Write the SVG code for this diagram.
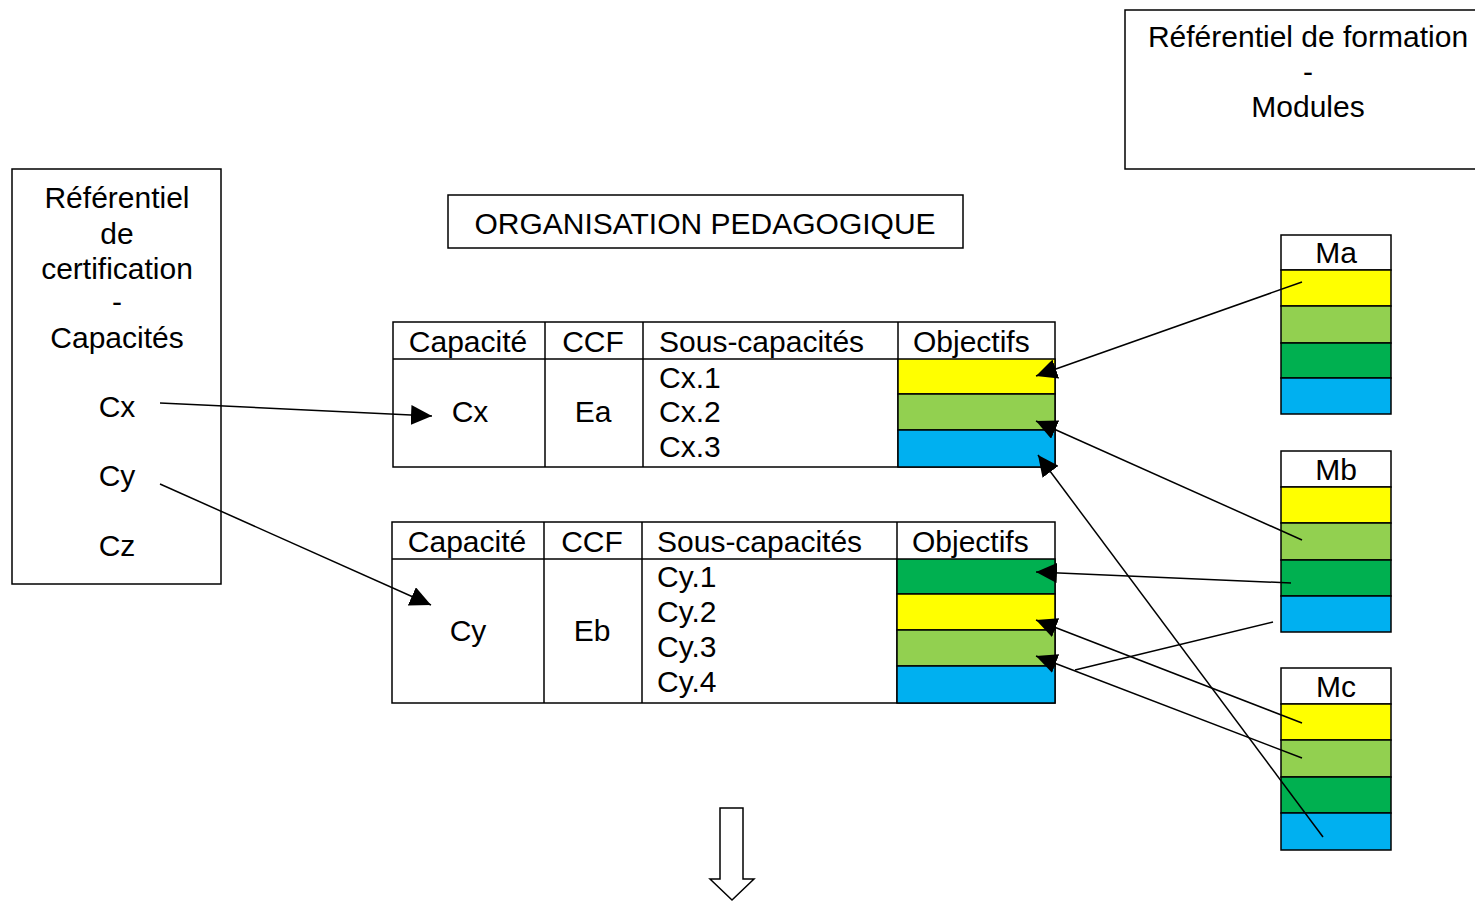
<svg xmlns="http://www.w3.org/2000/svg" width="1475" height="902" viewBox="0 0 1475 902">
<style>
text{font-family:"Liberation Sans",Arial,sans-serif;font-size:30px;fill:#000}
.c{text-anchor:middle}
.b{fill:#fff;stroke:#000;stroke-width:1.5}
.ln{stroke:#000;stroke-width:1.5;fill:none}
.y{fill:#FFFF00;stroke:#000;stroke-width:1.5}
.lg{fill:#92D050;stroke:#000;stroke-width:1.5}
.dg{fill:#00B050;stroke:#000;stroke-width:1.5}
.bl{fill:#00B0F0;stroke:#000;stroke-width:1.5}
.cn{stroke:#000;stroke-width:1.5;fill:none}
</style>
<defs>
<marker id="ah" markerUnits="userSpaceOnUse" markerWidth="22" markerHeight="20" refX="21" refY="10" orient="auto">
<path d="M0,0 L21,10 L0,20 Z" fill="#000"/>
</marker>
</defs>
<rect width="1475" height="902" fill="#fff"/>

<g id="ref-certification">
<rect class="b" x="12" y="169" width="209" height="415"/>
<text class="c" x="117" y="208">Référentiel</text>
<text class="c" x="117" y="244">de</text>
<text class="c" x="117" y="279">certification</text>
<text class="c" x="117" y="312">-</text>
<text class="c" x="117" y="348">Capacités</text>
<text class="c" x="117" y="417">Cx</text>
<text class="c" x="117" y="486">Cy</text>
<text class="c" x="117" y="556">Cz</text>
</g>

<g id="ref-formation">
<rect class="b" x="1125" y="10" width="370" height="159"/>
<text class="c" x="1308" y="47">Référentiel de formation</text>
<text class="c" x="1308" y="82">-</text>
<text class="c" x="1308" y="117">Modules</text>
</g>

<g id="title">
<rect class="b" x="448" y="195" width="515" height="53"/>
<text class="c" x="705" y="234">ORGANISATION PEDAGOGIQUE</text>
</g>

<g id="table-cx">
<rect class="b" x="393" y="322" width="662" height="145"/>
<line class="ln" x1="393" y1="359" x2="898" y2="359"/>
<line class="ln" x1="545" y1="322" x2="545" y2="467"/>
<line class="ln" x1="643" y1="322" x2="643" y2="467"/>
<line class="ln" x1="898" y1="322" x2="898" y2="467"/>
<rect class="y" x="898" y="359" width="157" height="35"/>
<rect class="lg" x="898" y="394" width="157" height="36"/>
<rect class="bl" x="898" y="430" width="157" height="37"/>
<text class="c" x="468" y="352">Capacité</text>
<text class="c" x="593" y="352">CCF</text>
<text x="659" y="352">Sous-capacités</text>
<text x="913" y="352">Objectifs</text>
<text class="c" x="470" y="422">Cx</text>
<text class="c" x="593" y="422">Ea</text>
<text x="659" y="388">Cx.1</text>
<text x="659" y="422">Cx.2</text>
<text x="659" y="457">Cx.3</text>
</g>

<g id="table-cy">
<rect class="b" x="392" y="522" width="663" height="181"/>
<line class="ln" x1="392" y1="559" x2="897" y2="559"/>
<line class="ln" x1="544" y1="522" x2="544" y2="703"/>
<line class="ln" x1="642" y1="522" x2="642" y2="703"/>
<line class="ln" x1="897" y1="522" x2="897" y2="703"/>
<rect class="dg" x="897" y="559" width="158" height="35"/>
<rect class="y" x="897" y="594" width="158" height="36"/>
<rect class="lg" x="897" y="630" width="158" height="36"/>
<rect class="bl" x="897" y="666" width="158" height="37"/>
<text class="c" x="467" y="552">Capacité</text>
<text class="c" x="592" y="552">CCF</text>
<text x="657" y="552">Sous-capacités</text>
<text x="912" y="552">Objectifs</text>
<text class="c" x="468" y="641">Cy</text>
<text class="c" x="592" y="641">Eb</text>
<text x="657" y="587">Cy.1</text>
<text x="657" y="622">Cy.2</text>
<text x="657" y="657">Cy.3</text>
<text x="657" y="692">Cy.4</text>
</g>

<g id="module-ma">
<rect class="b" x="1281" y="235" width="110" height="35"/>
<rect class="y" x="1281" y="270" width="110" height="36"/>
<rect class="lg" x="1281" y="306" width="110" height="37"/>
<rect class="dg" x="1281" y="343" width="110" height="35"/>
<rect class="bl" x="1281" y="378" width="110" height="36"/>
<text class="c" x="1336" y="263">Ma</text>
</g>

<g id="module-mb">
<rect class="b" x="1281" y="451" width="110" height="36"/>
<rect class="y" x="1281" y="487" width="110" height="36"/>
<rect class="lg" x="1281" y="523" width="110" height="37"/>
<rect class="dg" x="1281" y="560" width="110" height="36"/>
<rect class="bl" x="1281" y="596" width="110" height="36"/>
<text class="c" x="1336" y="480">Mb</text>
</g>

<g id="module-mc">
<rect class="b" x="1281" y="668" width="110" height="36"/>
<rect class="y" x="1281" y="704" width="110" height="36"/>
<rect class="lg" x="1281" y="740" width="110" height="37"/>
<rect class="dg" x="1281" y="777" width="110" height="36"/>
<rect class="bl" x="1281" y="813" width="110" height="37"/>
<text class="c" x="1336" y="697">Mc</text>
</g>

<g id="connectors">
<line class="cn" x1="160" y1="403" x2="432" y2="416" marker-end="url(#ah)"/>
<line class="cn" x1="160" y1="484" x2="431" y2="605" marker-end="url(#ah)"/>
<line class="cn" x1="1302" y1="282" x2="1036" y2="376" marker-end="url(#ah)"/>
<line class="cn" x1="1302" y1="540" x2="1036" y2="421" marker-end="url(#ah)"/>
<line class="cn" x1="1323" y1="837" x2="1038" y2="455" marker-end="url(#ah)"/>
<line class="cn" x1="1291" y1="583" x2="1036" y2="572" marker-end="url(#ah)"/>
<line class="cn" x1="1302" y1="723" x2="1036" y2="620" marker-end="url(#ah)"/>
<line class="cn" x1="1302" y1="758" x2="1036" y2="656" marker-end="url(#ah)"/>
<line class="cn" x1="1273" y1="622" x2="1075" y2="670"/>
</g>

<g id="down-arrow">
<path d="M720,808 L743,808 L743,879 L754,879 L732,900 L710,879 L720,879 Z" fill="#fff" stroke="#000" stroke-width="1.5"/>
</g>
</svg>
